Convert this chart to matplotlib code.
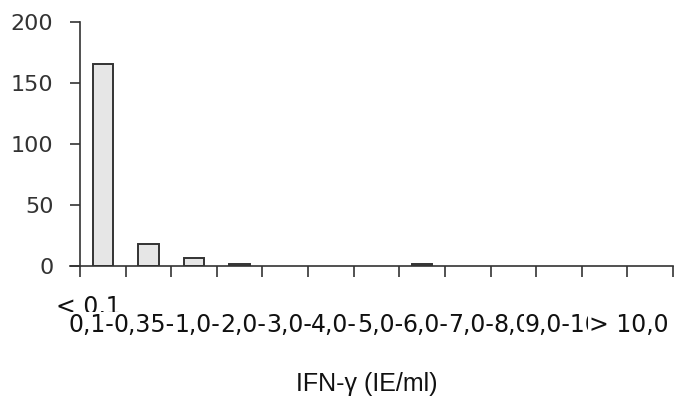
import matplotlib
matplotlib.use("Agg")
import matplotlib.pyplot as plt
from matplotlib.transforms import blended_transform_factory

categories = ["< 0,1", "0,1-0,35", "0,35-1,0", "1,0-2,0", "2,0-3,0", "3,0-4,0",
              "4,0-5,0", "5,0-6,0", "6,0-7,0", "7,0-8,0", "8,0-9,0", "9,0-10,0", "> 10,0"]
counts = [165, 18, 6, 1, 0, 0, 0, 1, 0, 0, 0, 0, 0]
y_ticks = [0, 50, 100, 150, 200]
x_label = "IFN-γ (IE/ml)"

W, H = 674, 400
fig = plt.figure(figsize=(W / 100, H / 100), dpi=100)
ax_left, ax_right = 70 / W, 673 / W
ax_bottom, ax_top = 1 - 265.7 / H, 1 - 21.7 / H
ax = fig.add_axes([ax_left, ax_bottom, ax_right - ax_left, ax_top - ax_bottom])

n = len(categories)
xs = [i + 0.5 for i in range(n)]
lws = [1.4 if c > 0 else 0 for c in counts]
ax.bar(xs, counts, width=0.45, color="#e6e6e6", edgecolor="#333333", linewidth=lws, zorder=3)

ax.set_xlim(-10 / 45.5, n)
ax.set_ylim(0, 200)

for s in ["top", "right"]:
    ax.spines[s].set_visible(False)
ax.spines["left"].set_position(("data", 0))
for s in ["left", "bottom"]:
    ax.spines[s].set_color("#333333")
    ax.spines[s].set_linewidth(1.2)
ax.spines["bottom"].set_zorder(4)

ax.set_yticks(y_ticks)
ax.set_yticklabels([str(v) for v in y_ticks], fontsize=16, color="#333333")
ax.tick_params(axis="y", direction="out", length=7.2, width=1.2, color="#333333", pad=12)
ax.set_xticks(range(n + 1))
ax.set_xticklabels([""] * (n + 1))
ax.tick_params(axis="x", direction="out", length=8, width=1.2, color="#333333")

trans = blended_transform_factory(ax.transData, fig.transFigure)
for i, lab in enumerate(categories):
    ybase = 1 - (314 if i == 0 else 332) / H
    ax.text(i + 1 - 0.1, ybase, lab, transform=trans, ha="right", va="baseline",
            fontsize=17, color="#111111", family="DejaVu Sans",
            bbox=dict(facecolor="white", edgecolor="none", pad=0.5), zorder=10 + i,
            clip_on=False)

ax.set_xlabel(x_label, fontsize=18, family="Liberation Sans", color="#111111",
              va="baseline")
ax.xaxis.set_label_coords((367 - 70) / 603, (265.7 - 391) / 244)

fig.savefig("out.png", dpi=100)
